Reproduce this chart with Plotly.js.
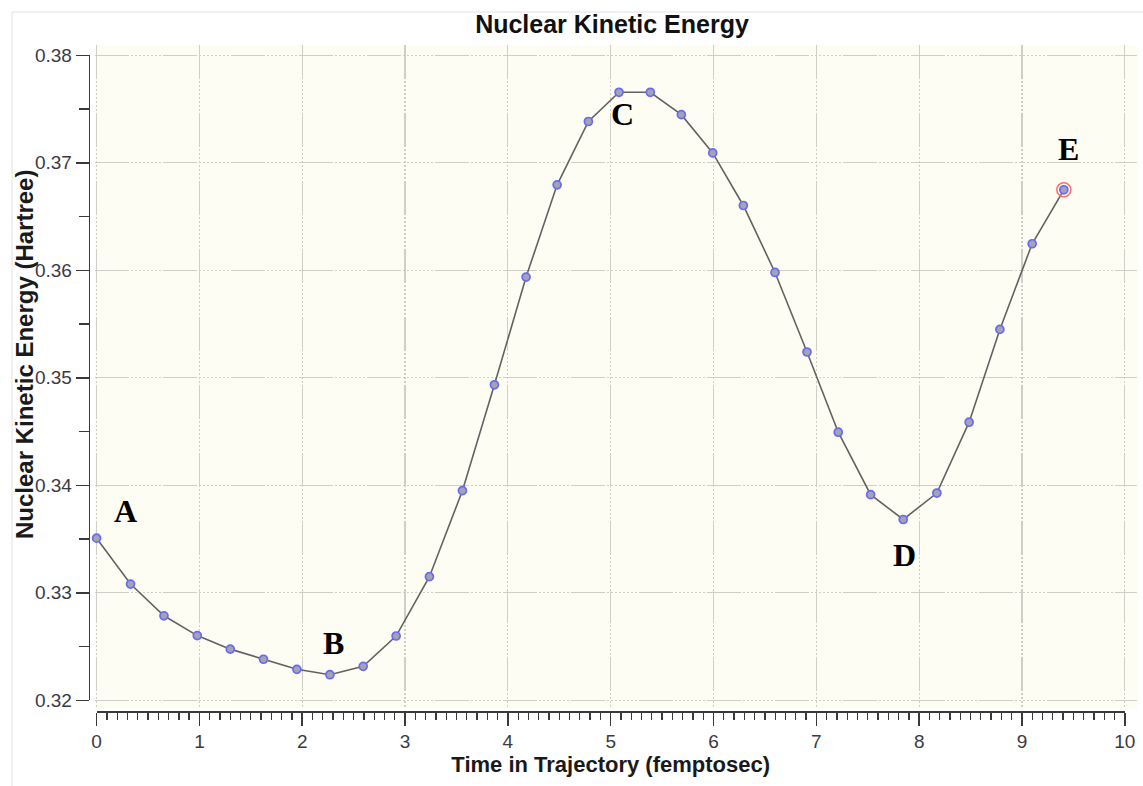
<!DOCTYPE html>
<html>
<head>
<meta charset="utf-8">
<script src="https://cdn.plot.ly/plotly-3.0.1.min.js"></script>
<style>
  html, body { margin: 0; padding: 0; background: #ffffff; }
  #chart { width: 1143px; height: 786px; }
</style>
</head>
<body>
<div id="chart"></div>
<script>
// ---- data ----
const timeFs = [0, 0.330, 0.655, 0.979, 1.300, 1.623, 1.948, 2.269, 2.593, 2.913,
                3.237, 3.558, 3.869, 4.177, 4.479, 4.783, 5.081, 5.385, 5.687, 5.992,
                6.290, 6.598, 6.909, 7.213, 7.528, 7.845, 8.172, 8.486, 8.785, 9.099, 9.407];
const kineticEnergy = [0.33508, 0.33081, 0.32786, 0.32602, 0.32476, 0.32382, 0.32288, 0.32238, 0.32316, 0.32598,
                       0.33150, 0.33950, 0.34935, 0.35937, 0.36795, 0.37384, 0.37656, 0.37656, 0.37448, 0.37092,
                       0.36603, 0.35980, 0.35240, 0.34494, 0.33913, 0.33682, 0.33928, 0.34587, 0.35450, 0.36247, 0.36749];
const pointLabels = ['A', 'B', 'C', 'D', 'E'];
const pointLabelX = [0.283, 2.302, 5.113, 7.853, 9.457];
const pointLabelY = [0.33761, 0.32531, 0.37451, 0.33352, 0.37126];

const chartTitle = 'Nuclear Kinetic Energy';
const xTitle = 'Time in Trajectory (femptosec)';
const yTitle = 'Nuclear Kinetic Energy (Hartree)';

// ---- layout geometry (pixels) ----
const W = 1143, H = 786;
const M = { l: 80, r: 6, t: 40, b: 70 };
const PW = W - M.l - M.r, PH = H - M.t - M.b;
const px2fx = p => (p - M.l) / PW;          // pixel x -> paper x
const px2fy = p => (H - M.b - p) / PH;      // pixel y -> paper y

const last = timeFs.length - 1;
const gridDash = '34px,2px,2px,2px,2px,2px,2px,2px,2px,2px,2px,2px,2px,2px,2px,2px,2px,2px';
const gridCol = '#cfcfc8';
const axCol = '#3a3a3a';
const tickFont = { family: 'Liberation Sans, Arial, sans-serif', size: 19, color: '#3a3a46' };

const traces = [
  {
    type: 'scatter', mode: 'lines+markers',
    x: timeFs, y: kineticEnergy,
    xaxis: 'x', yaxis: 'y',
    line: { color: '#626262', width: 1.6 },
    marker: { size: 8, color: '#a4a4ae', line: { color: '#6a6af8', width: 1.7 } },
    cliponaxis: false, showlegend: false, hoverinfo: 'x+y'
  },
  {
    type: 'scatter', mode: 'markers',
    x: [timeFs[last]], y: [kineticEnergy[last]],
    xaxis: 'x', yaxis: 'y',
    marker: { size: 14, color: 'rgba(0,0,0,0)', line: { color: '#ff7070', width: 1.6 } },
    cliponaxis: false, showlegend: false, hoverinfo: 'skip'
  },
  {
    type: 'scatter', mode: 'markers',
    x: [null], y: [null], xaxis: 'x2', yaxis: 'y2',
    showlegend: false, hoverinfo: 'skip'
  }
];

const annotations = pointLabels.map((t, i) => ({
  text: '<b>' + t + '</b>', x: pointLabelX[i], y: pointLabelY[i],
  xref: 'x', yref: 'y', showarrow: false, xanchor: 'center', yanchor: 'middle',
  font: { family: 'Liberation Serif, Times New Roman, serif', size: 32, color: '#000000' }
}));
annotations.push({
  text: '<b>' + yTitle + '</b>', textangle: -90,
  x: px2fx(24), y: px2fy(355), xref: 'paper', yref: 'paper',
  xanchor: 'center', yanchor: 'middle', showarrow: false,
  font: { family: 'Liberation Sans, Arial, sans-serif', size: 24, color: '#1a1a1a' }
});

const layout = {
  width: W, height: H,
  margin: M,
  paper_bgcolor: '#ffffff',
  plot_bgcolor: 'rgba(0,0,0,0)',
  showlegend: false,
  title: {
    text: '<b>' + chartTitle + '</b>',
    x: 612 / W, xref: 'container', xanchor: 'center',
    y: 1 - 24 / H, yref: 'container', yanchor: 'middle',
    font: { family: 'Liberation Sans, Arial, sans-serif', size: 25, color: '#111111' }
  },
  xaxis: {
    domain: [px2fx(95), 1],
    range: [(95 - 96.6) / 102.82, (1137 - 96.6) / 102.82],
    showline: false, zeroline: false, ticks: '', showticklabels: false,
    showgrid: true, gridcolor: gridCol, gridwidth: 1.2, griddash: gridDash,
    tick0: 0, dtick: 1, anchor: 'y', fixedrange: true
  },
  yaxis: {
    domain: [px2fy(709), px2fy(45)],
    range: [0.32 - (709 - 700.3) / 10751, 0.38 + (55.3 - 45) / 10751],
    showline: false, zeroline: false, ticks: '', showticklabels: false,
    showgrid: true, gridcolor: gridCol, gridwidth: 1.2, griddash: gridDash,
    tick0: 0.32, dtick: 0.01, anchor: 'x', fixedrange: true
  },
  xaxis2: {
    domain: [px2fx(96.6), px2fx(1124.8)],
    range: [0, 10],
    anchor: 'free', position: px2fy(711),
    showline: true, linecolor: axCol, linewidth: 1.5, mirror: false,
    showgrid: false, zeroline: false,
    ticks: 'outside', ticklen: 13, tickwidth: 1.5, tickcolor: axCol,
    tick0: 0, dtick: 1, tickfont: tickFont,
    minor: { ticks: 'outside', ticklen: 7, tickwidth: 1.3, tickcolor: axCol, dtick: 0.1, tick0: 0, showgrid: false },
    title: { text: '<b>' + xTitle + '</b>', standoff: 4,
             font: { family: 'Liberation Sans, Arial, sans-serif', size: 22, color: '#1a1a1a' } },
    fixedrange: true
  },
  yaxis2: {
    domain: [px2fy(700.3), px2fy(55.3)],
    range: [0.32, 0.38],
    anchor: 'free', position: px2fx(88.7),
    showline: true, linecolor: axCol, linewidth: 1.5, mirror: false,
    showgrid: false, zeroline: false,
    ticks: 'outside', ticklen: 13, tickwidth: 1.5, tickcolor: axCol,
    tick0: 0.32, dtick: 0.01, tickformat: '.2f', tickfont: tickFont,
    minor: { ticks: 'outside', ticklen: 10, tickwidth: 1.3, tickcolor: axCol, dtick: 0.005, tick0: 0.32, showgrid: false },
    fixedrange: true
  },
  shapes: [
    { type: 'rect', xref: 'paper', yref: 'paper', layer: 'below',
      x0: px2fx(12), x1: px2fx(1160), y0: px2fy(800), y1: px2fy(12),
      line: { color: '#e2e2e2', width: 1 }, fillcolor: 'rgba(0,0,0,0)' },
    { type: 'rect', xref: 'paper', yref: 'paper', layer: 'below',
      x0: px2fx(95), x1: px2fx(1137), y0: px2fy(709), y1: px2fy(45),
      line: { width: 0 }, fillcolor: '#fdfdf3' }
  ],
  annotations: annotations
};

Plotly.newPlot('chart', traces, layout, { displayModeBar: false, staticPlot: true });
</script>
</body>
</html>
